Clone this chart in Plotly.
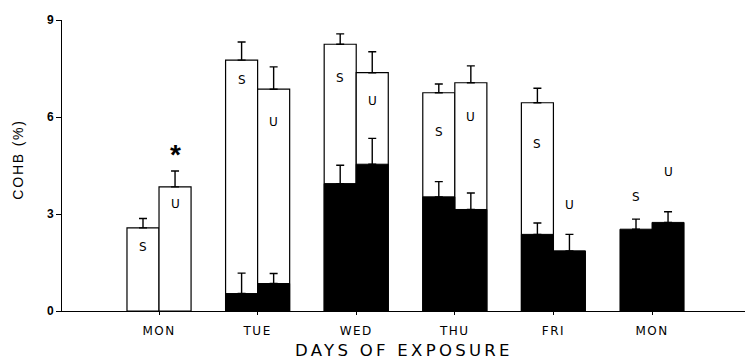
import plotly.graph_objects as go

# Days of the exposure week (x categories)
days = ["MON", "TUE", "WED", "THU", "FRI", "MON"]

# COHB (%) after the shift (open bars) and before the shift (solid bars),
# for smokers (S) and non-smokers (U), with the upper standard error.
s_post = [2.57, 7.76, 8.25, 6.75, 6.44, None]
s_post_err = [0.29, 0.56, 0.32, 0.27, 0.45, None]
u_post = [3.84, 6.86, 7.37, 7.06, None, None]
u_post_err = [0.49, 0.69, 0.65, 0.52, None, None]

s_pre = [None, 0.54, 3.94, 3.53, 2.37, 2.53]
s_pre_err = [None, 0.63, 0.57, 0.47, 0.35, 0.31]
u_pre = [None, 0.85, 4.54, 3.14, 1.86, 2.74]
u_pre_err = [None, 0.31, 0.80, 0.51, 0.51, 0.33]

# Heights at which the group letters are written
s_label_y = [1.98, 7.14, 7.22, 5.54, 5.18, 3.53]
u_label_y = [3.32, 5.85, 6.49, 5.99, 3.27, 4.30]
star_y = 4.85  # significance mark over the first Monday

x_idx = list(range(len(days)))
BARGAP = 0.35
half_bar = (1 - BARGAP) / 4  # centre offset of each bar within a group

FONT = "Liberation Sans"


def spaced(text, px):
    return f'<span style="letter-spacing:{px}px">{text}</span>'


def err(vals):
    return dict(type="data", array=vals, arrayminus=[0] * len(vals),
                symmetric=False, color="black", thickness=1.4, width=4)


fig = go.Figure()
fig.add_trace(go.Bar(x=x_idx, y=s_post, offsetgroup="S", error_y=err(s_post_err),
                     marker=dict(color="white", line=dict(color="black", width=1.2))))
fig.add_trace(go.Bar(x=x_idx, y=u_post, offsetgroup="U", error_y=err(u_post_err),
                     marker=dict(color="white", line=dict(color="black", width=1.2))))
fig.add_trace(go.Bar(x=x_idx, y=s_pre, offsetgroup="S", error_y=err(s_pre_err),
                     marker=dict(color="black", line=dict(color="black", width=1))))
fig.add_trace(go.Bar(x=x_idx, y=u_pre, offsetgroup="U", error_y=err(u_pre_err),
                     marker=dict(color="black", line=dict(color="black", width=1))))

annotations = []
for i in x_idx:
    annotations.append(dict(x=i - half_bar, y=s_label_y[i], xref="x", yref="y",
                            text="S", showarrow=False,
                            font=dict(family="DejaVu Sans", size=12, color="black")))
    annotations.append(dict(x=i + half_bar, y=u_label_y[i], xref="x", yref="y",
                            text="U", showarrow=False,
                            font=dict(family="DejaVu Sans", size=12, color="black")))
annotations.append(dict(x=x_idx[0] + half_bar, y=star_y, xref="x", yref="y",
                        text="<b>*</b>", showarrow=False,
                        font=dict(family=FONT, size=28, color="black")))
annotations.append(dict(x=0.5, y=-0.137, xref="paper", yref="paper",
                        xanchor="center", yanchor="middle",
                        text=spaced("DAYS OF EXPOSURE", 3.3), showarrow=False,
                        font=dict(family="DejaVu Sans", size=16.5, color="black")))
annotations.append(dict(x=-0.0644, y=0.52, xref="paper", yref="paper",
                        xanchor="center", yanchor="middle",
                        text=spaced("COHB (%)", 1.8), textangle=-90, showarrow=False,
                        font=dict(family=FONT, size=14, color="black")))

fig.update_layout(
    width=745, height=360,
    margin=dict(l=62, r=0, t=20, b=49),
    paper_bgcolor="white", plot_bgcolor="white",
    barmode="group", bargap=BARGAP, bargroupgap=0,
    showlegend=False,
    annotations=annotations,
)
fig.update_xaxes(range=[-0.984, 5.943], tickvals=x_idx,
                 ticktext=[spaced(d, 1.5) for d in days],
                 showline=True, linecolor="black", linewidth=1.2,
                 ticks="outside", ticklen=3, tickcolor="black",
                 ticklabelstandoff=5,
                 showgrid=False, zeroline=False,
                 tickfont=dict(family="DejaVu Sans", size=12, color="black"))
fig.update_yaxes(range=[0, 9], tickvals=[0, 3, 6, 9],
                 showline=True, linecolor="black", linewidth=1,
                 ticks="outside", ticklen=5, tickcolor="black",
                 showgrid=False, zeroline=False,
                 tickfont=dict(family=FONT, size=12, color="black", weight="bold"))

fig.write_html("out.html")
